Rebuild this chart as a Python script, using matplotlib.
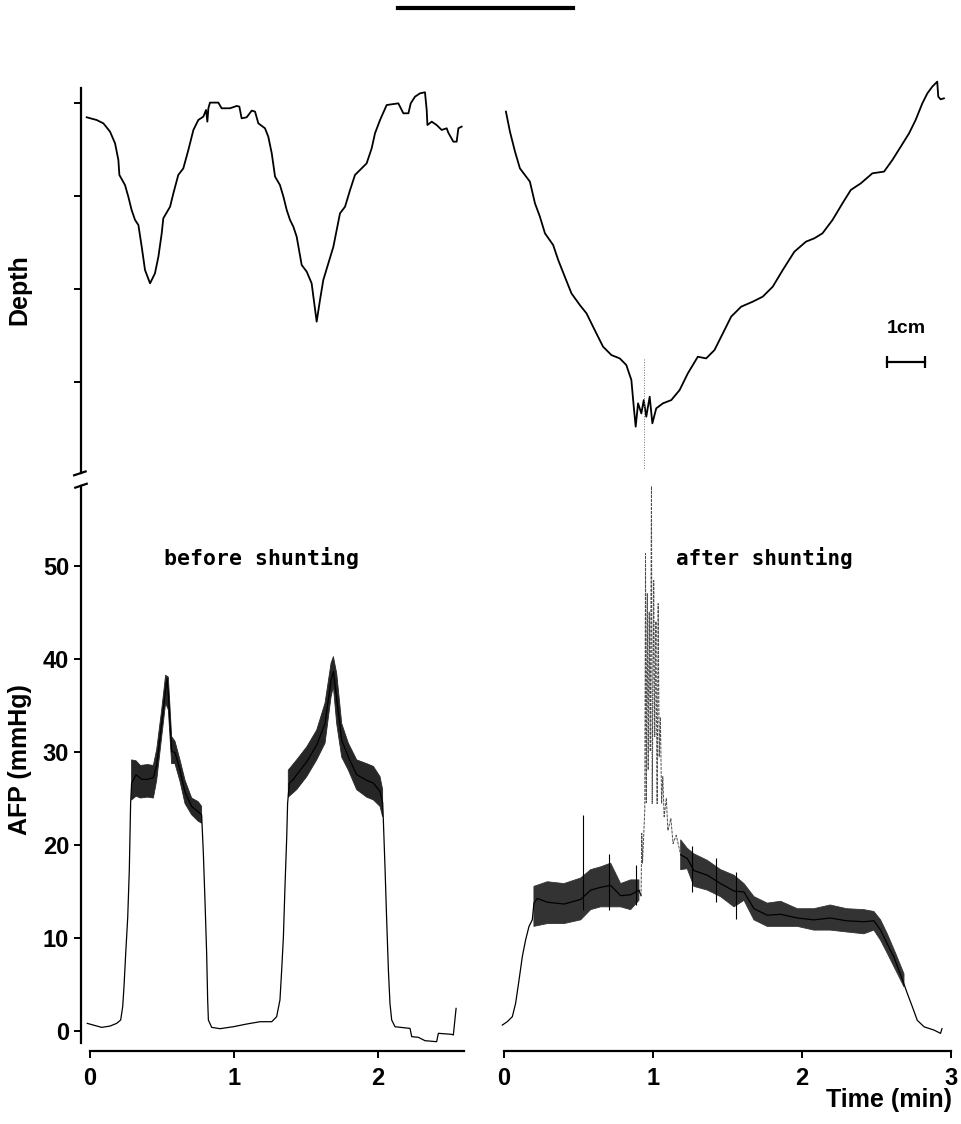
import numpy as np
import matplotlib
matplotlib.use('Agg')
import matplotlib.pyplot as plt

# ---- depth traces (cm below the start level, time in min) ----
depth_before_t = [-0.023, 0.046, 0.093, 0.139, 0.174, 0.197, 0.204, 0.243, 0.266, 0.289, 0.313, 0.336,
                  0.359, 0.382, 0.417, 0.451, 0.475, 0.498, 0.509, 0.556, 0.579, 0.613, 0.648, 0.683,
                  0.718, 0.752, 0.787, 0.806, 0.815, 0.822, 0.833, 0.891, 0.914, 0.972, 1.019, 1.037,
                  1.053, 1.088, 1.123, 1.146, 1.169, 1.215, 1.238, 1.262, 1.285, 1.319, 1.343, 1.366,
                  1.389, 1.412, 1.435, 1.470, 1.505, 1.539, 1.574, 1.597, 1.620, 1.655, 1.690, 1.736,
                  1.771, 1.806, 1.840, 1.875, 1.921, 1.956, 1.979, 2.014, 2.060, 2.141, 2.176, 2.211,
                  2.227, 2.257, 2.292, 2.326, 2.338, 2.343, 2.373, 2.407, 2.442, 2.477, 2.488, 2.523,
                  2.546, 2.558, 2.581]
depth_before = [-0.154, -0.183, -0.219, -0.308, -0.434, -0.613, -0.774, -0.882, -1.007, -1.151, -1.258, -1.312,
                -1.545, -1.796, -1.939, -1.832, -1.652, -1.401, -1.240, -1.115, -0.971, -0.774, -0.703, -0.505,
                -0.290, -0.183, -0.147, -0.075, -0.201, -0.057, 0.004, 0.004, -0.057, -0.057, -0.032, -0.039,
                -0.165, -0.154, -0.082, -0.093, -0.219, -0.272, -0.362, -0.541, -0.792, -0.882, -1.007, -1.151,
                -1.258, -1.330, -1.437, -1.742, -1.814, -1.939, -2.351, -2.118, -1.903, -1.724, -1.545, -1.186,
                -1.115, -0.935, -0.774, -0.720, -0.649, -0.487, -0.326, -0.183, -0.022, -0.004, -0.111, -0.111,
                -0.004, 0.068, 0.104, 0.115, -0.075, -0.237, -0.201, -0.237, -0.290, -0.272, -0.319, -0.416,
                -0.416, -0.272, -0.254]

depth_after_t = [0.013, 0.040, 0.074, 0.107, 0.174, 0.208, 0.241, 0.275, 0.330, 0.364, 0.408, 0.453,
                 0.509, 0.554, 0.609, 0.665, 0.721, 0.777, 0.821, 0.855, 0.871, 0.884, 0.900, 0.922,
                 0.938, 0.955, 0.978, 0.996, 1.022, 1.067, 1.123, 1.179, 1.234, 1.301, 1.357, 1.413,
                 1.469, 1.525, 1.592, 1.670, 1.737, 1.804, 1.871, 1.949, 2.027, 2.083, 2.138, 2.205,
                 2.272, 2.328, 2.395, 2.473, 2.551, 2.607, 2.663, 2.719, 2.763, 2.808, 2.842, 2.875,
                 2.908, 2.915, 2.931, 2.953]
depth_after = [-0.093, -0.308, -0.523, -0.703, -0.846, -1.079, -1.222, -1.401, -1.527, -1.688, -1.867, -2.047,
               -2.172, -2.262, -2.441, -2.620, -2.710, -2.746, -2.817, -2.978, -3.265, -3.480, -3.229, -3.337,
               -3.194, -3.373, -3.158, -3.444, -3.283, -3.229, -3.194, -3.086, -2.907, -2.728, -2.746, -2.656,
               -2.477, -2.297, -2.190, -2.136, -2.082, -1.975, -1.796, -1.599, -1.491, -1.455, -1.401, -1.258,
               -1.079, -0.935, -0.864, -0.756, -0.738, -0.613, -0.470, -0.326, -0.183, -0.004, 0.104, 0.176,
               0.229, 0.068, 0.039, 0.050]

# ---- AFP (mmHg) before shunting ----
afp_before_t = [-0.019, 0.023, 0.081, 0.139, 0.185, 0.213, 0.227, 0.236, 0.248, 0.262, 0.273, 0.282,
                0.289, 0.320, 0.360, 0.400, 0.440, 0.463, 0.498, 0.525, 0.535, 0.544, 0.567, 0.590,
                0.625, 0.660, 0.706, 0.752, 0.775, 0.787, 0.799, 0.810, 0.817, 0.822, 0.845, 0.903,
                0.995, 1.088, 1.181, 1.262, 1.296, 1.319, 1.331, 1.343, 1.354, 1.366, 1.372, 1.384,
                1.412, 1.435, 1.505, 1.574, 1.632, 1.674, 1.690, 1.713, 1.748, 1.794, 1.852, 1.921,
                1.968, 2.014, 2.032, 2.037, 2.049, 2.060, 2.072, 2.083, 2.095, 2.118, 2.222, 2.234,
                2.280, 2.326, 2.407, 2.419, 2.512, 2.523, 2.542]
afp_before = [0.77, 0.59, 0.34, 0.48, 0.77, 1.13, 2.56, 4.71, 8.30, 12.2, 17.3, 24.4,
              26.6, 27.5, 27.0, 27.0, 27.2, 28.5, 33.0, 36.7, 37.8, 36.2, 30.0, 29.9,
              28.0, 25.6, 24.1, 23.5, 23.2, 19.1, 13.7, 8.3, 3.3, 1.13, 0.34, 0.20,
              0.41, 0.70, 0.95, 0.95, 1.49, 3.28, 6.51, 10.1, 15.5, 20.8, 24.4, 26.6,
              27.0, 27.5, 28.9, 30.7, 33.0, 37.7, 38.6, 35.7, 31.2, 29.4, 27.5, 26.9,
              26.6, 25.7, 24.5, 22.6, 17.3, 11.9, 6.5, 2.9, 1.13, 0.41, 0.23, -0.66,
              -0.73, -1.09, -1.20, -0.30, -0.41, -0.48, 2.38]

# envelope of the noisy plateaus
band_before_t = [0.289, 0.32, 0.35, 0.40, 0.44, 0.463, 0.498, 0.525, 0.544, 0.567, 0.590, 0.625, 0.660,
                 0.706, 0.752, 0.775, None,
                 1.377, 1.435, 1.505, 1.574, 1.632, 1.674, 1.690, 1.713, 1.748, 1.794, 1.852, 1.921,
                 1.968, 2.014, 2.032]
band_before_hi = [29.1, 29.0, 28.5, 28.6, 28.5, 30.2, 34.5, 38.2, 38.0, 31.6, 31.1, 29.1, 26.9,
                  25.0, 24.6, 24.1, None,
                  28.0, 29.1, 30.5, 32.3, 35.2, 39.5, 40.2, 38.4, 33.0, 30.9, 29.1, 28.7,
                  28.4, 27.3, 25.9]
band_before_lo = [24.8, 25.2, 25.0, 25.1, 25.0, 26.9, 31.6, 35.2, 34.5, 28.7, 28.7, 26.8, 24.4,
                  23.2, 22.5, 22.3, None,
                  25.1, 25.9, 27.3, 29.1, 30.9, 35.9, 37.0, 33.0, 29.4, 28.0, 25.9, 25.1,
                  24.8, 24.1, 23.0]

# ---- AFP (mmHg) after shunting ----
afp_after_t = [-0.011, 0.022, 0.056, 0.078, 0.101, 0.123, 0.145, 0.168, 0.190, 0.201, 0.224, 0.291,
               0.403, 0.515, 0.582, 0.649, 0.716, 0.783, 0.850, 0.906, 0.920]
afp_after = [0.59, 0.95, 1.49, 2.92, 5.43, 7.94, 9.73, 11.2, 11.9, 13.7, 14.2, 13.8,
             13.6, 14.1, 15.1, 15.4, 15.6, 14.5, 14.6, 15.1, 14.5]

surge_t = [0.920, 0.925, 0.930, 0.945, 0.950, 0.955, 0.962, 0.968, 0.975, 0.982, 0.990, 0.995,
           1.005, 1.012, 1.020, 1.028, 1.035, 1.042, 1.050, 1.058, 1.066, 1.075, 1.090, 1.100,
           1.120, 1.135, 1.156, 1.186]
surge = [14.5, 21.2, 18.0, 23.7, 51.3, 24.5, 47.0, 28.0, 45.0, 30.0, 59.2, 24.4,
         48.4, 31.6, 44.0, 24.4, 45.9, 29.4, 33.7, 24.4, 27.3, 23.0, 25.0, 21.5,
         22.8, 20.1, 21.0, 18.9]

afp_after2_t = [1.186, 1.230, 1.275, 1.365, 1.454, 1.544, 1.611, 1.678, 1.767, 1.857, 1.969, 2.080,
                2.190, 2.300, 2.416, 2.483, 2.528, 2.573, 2.617, 2.660, 2.707, 2.740, 2.774, 2.820,
                2.886, 2.930, 2.940]
afp_after2 = [18.9, 18.5, 17.2, 16.7, 15.8, 15.0, 14.9, 13.1, 12.4, 12.5, 12.1, 11.9,
              12.1, 11.8, 11.7, 11.8, 10.8, 9.3, 7.9, 6.1, 4.0, 2.6, 1.1, 0.4,
              0.05, -0.3, 0.2]

band_after_t = [0.201, 0.291, 0.403, 0.515, 0.582, 0.649, 0.716, 0.783, 0.850, 0.906, None,
                1.186, 1.230, 1.275, 1.365, 1.454, 1.544, 1.611, 1.678, 1.767, 1.857, 1.969,
                2.080, 2.190, 2.300, 2.416, 2.483, 2.528, 2.573, 2.629, 2.685]
band_after_hi = [15.5, 16.0, 15.8, 16.4, 17.3, 17.6, 18.0, 15.8, 16.2, 16.2, None,
                 20.5, 19.6, 19.0, 18.3, 17.3, 16.7, 15.8, 14.4, 13.7, 13.9, 13.1,
                 13.1, 13.5, 13.1, 13.0, 12.8, 11.9, 10.4, 8.3, 6.1]
band_after_lo = [11.2, 11.5, 11.5, 11.9, 13.0, 13.3, 13.3, 13.3, 13.0, 14.0, None,
                 17.3, 17.4, 15.5, 15.1, 14.4, 13.3, 14.0, 11.9, 11.2, 11.2, 11.2,
                 10.8, 10.8, 10.6, 10.4, 10.8, 9.7, 8.3, 6.5, 4.7]

spike_t = [0.532, 0.705, 0.884, 1.264, 1.420, 1.560]
spike_lo = [13.0, 13.0, 13.5, 14.9, 13.8, 12.0]
spike_hi = [23.2, 19.0, 17.8, 19.8, 18.6, 17.0]

afp_ticks = [0, 10, 20, 30, 40, 50]
depth_ticks = [0, -1, -2, -3]
left_xticks = [0, 1, 2]
right_xticks = [0, 1, 2, 3]

W, H = 961, 1124
plt.rcParams['font.family'] = ['Liberation Sans', 'DejaVu Sans']
plt.rcParams['font.weight'] = 'bold'

fig = plt.figure(figsize=(W / 100, H / 100), dpi=100)


def box(x0, y0, x1, y1):
    return [x0 / W, 1 - y1 / H, (x1 - x0) / W, (y1 - y0) / H]


ax_dl = fig.add_axes(box(81, 88, 464, 473))
ax_dr = fig.add_axes(box(501, 88, 956, 473))
ax_al = fig.add_axes(box(81, 486, 464, 1043))
ax_ar = fig.add_axes(box(501, 486, 956, 1043))

for ax in (ax_dl, ax_al):
    ax.set_xlim(-0.0625, 2.597)
for ax in (ax_dr, ax_ar):
    ax.set_xlim(-0.02, 3.034)
for ax in (ax_dl, ax_dr):
    ax.set_ylim(-3.978, 0.161)
for ax in (ax_al, ax_ar):
    ax.set_ylim(-1.34, 58.55)

for ax in (ax_dl, ax_dr, ax_al, ax_ar):
    ax.patch.set_visible(False)
    for s in ax.spines.values():
        s.set_visible(False)
        s.set_linewidth(1.6)
    ax.tick_params(width=1.4, length=5, labelsize=17)

# depth panels
ax_dl.plot(depth_before_t, depth_before, color='black', lw=1.3, clip_on=False)
ax_dr.plot(depth_after_t, depth_after, color='black', lw=1.3, clip_on=False)
ax_dr.plot([0.9375, 0.9375], [-2.75, -3.95], color='0.45', lw=0.7, ls=':')
ax_dl.spines['left'].set_visible(True)
ax_dl.set_yticks(depth_ticks)
ax_dl.set_yticklabels([])
ax_dl.set_xticks([])
ax_dr.set_xticks([])
ax_dr.set_yticks([])

# 1 cm scale bar
ax_dr.plot([2.57, 2.826], [-2.785, -2.785], color='black', lw=1.6,
           marker='|', markersize=8, markeredgewidth=1.6)
ax_dr.text(2.698, -2.52, '1cm', ha='center', va='bottom', fontsize=14, fontweight='bold')

# AFP panels
ax_al.plot(afp_before_t, afp_before, color='black', lw=0.9)
bt = np.array(band_before_t, dtype=float)
ax_al.fill_between(bt, np.array(band_before_hi, dtype=float), np.array(band_before_lo, dtype=float),
                   color='0.15', lw=0.6, edgecolor='0.15')

ax_ar.plot(afp_after_t, afp_after, color='black', lw=0.9)
ax_ar.plot(surge_t, surge, color='0.3', lw=0.7, ls=(0, (3, 1.2)))
ax_ar.plot(afp_after2_t, afp_after2, color='black', lw=0.9)
at = np.array(band_after_t, dtype=float)
ax_ar.fill_between(at, np.array(band_after_hi, dtype=float), np.array(band_after_lo, dtype=float),
                   color='0.2', lw=0.6, edgecolor='0.2')
ax_ar.vlines(spike_t, spike_lo, spike_hi, color='black', lw=0.8)

ax_al.spines['left'].set_visible(True)
ax_al.spines['bottom'].set_visible(True)
ax_al.spines['bottom'].set_position(('outward', 6))
ax_al.spines['bottom'].set_bounds(0, 2.6)
ax_al.set_yticks(afp_ticks)
ax_al.set_xticks(left_xticks)
ax_al.tick_params(axis='x', pad=6)

ax_ar.spines['bottom'].set_visible(True)
ax_ar.spines['bottom'].set_position(('outward', 6))
ax_ar.spines['bottom'].set_bounds(0, 3.0)
ax_ar.set_yticks([])
ax_ar.set_xticks(right_xticks)
ax_ar.tick_params(axis='x', pad=6)

# axis break marks
ax_dl.plot([-0.018, 0.012], [-0.006, 0.004], transform=ax_dl.transAxes, color='black',
           lw=1.6, clip_on=False)
ax_al.plot([-0.015, 0.015], [0.997, 1.004], transform=ax_al.transAxes, color='black',
           lw=1.6, clip_on=False)

ax_al.text(1.19, 50.8, 'before shunting', ha='center', va='center', fontsize=15.5,
           family='DejaVu Sans Mono', fontweight='bold')
ax_ar.text(1.75, 50.8, 'after shunting', ha='center', va='center', fontsize=15,
           family='DejaVu Sans Mono', fontweight='bold')

fig.text(19 / W, 1 - 290 / H, 'Depth', rotation=90, ha='center', va='center', fontsize=18,
         fontweight='bold')
fig.text(20 / W, 1 - 760 / H, 'AFP (mmHg)', rotation=90, ha='center', va='center', fontsize=18,
         fontweight='bold')
fig.text(952 / W, 1 - 1100 / H, 'Time (min)', ha='right', va='center', fontsize=18,
         fontweight='bold')

# rule at the top of the page
fig.add_artist(plt.Line2D([398 / W, 573 / W], [1 - 8 / H, 1 - 8 / H], color='black', lw=3))

fig.savefig('out.png', dpi=100)
